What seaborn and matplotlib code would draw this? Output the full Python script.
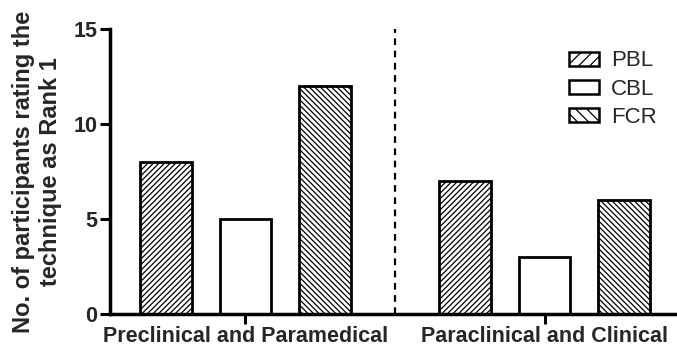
import matplotlib
matplotlib.use("Agg")
import matplotlib.pyplot as plt
import seaborn as sns
import pandas as pd

# Data
groups = ['Preclinical and Paramedical', 'Paraclinical and Clinical']
techniques = ['PBL', 'CBL', 'FCR']
pbl = [8, 7]
cbl = [5, 3]
fcr = [12, 6]

df = pd.DataFrame({
    'Group': groups * 3,
    'Technique': [t for t in techniques for _ in groups],
    'Count': pbl + cbl + fcr,
})

sns.set_style('ticks')
plt.rcParams['font.family'] = ['Liberation Sans', 'DejaVu Sans']
plt.rcParams['hatch.linewidth'] = 0.9

fig = plt.figure(figsize=(6.77, 3.54), dpi=100)
ax = fig.add_axes([0.1625, 0.113, 0.8375, 0.805])

sns.barplot(data=df, x='Group', y='Count', hue='Technique', order=groups,
            hue_order=techniques, palette=['white'] * 3, edgecolor='black',
            linewidth=2, gap=0.35, ax=ax, legend=True)

hatches = {'PBL': '//////', 'CBL': '', 'FCR': '\\\\\\\\\\\\'}
for cont, tech in zip(ax.containers, techniques):
    for bar in cont:
        bar.set_hatch(hatches[tech])

ax.axvline(0.5, ymin=0, ymax=1, color='black', linestyle=(0, (3, 2.5)), linewidth=1.6)

ax.set_xlim(-0.453, 1.443)
ax.set_ylim(0, 15)
ax.set_yticks([0, 5, 10, 15])
ax.set_xlabel('')
ax.set_ylabel('No. of participants rating the\ntechnique as Rank 1', fontsize=17,
              fontweight='bold', labelpad=8, linespacing=1.25)
for lbl in ax.get_xticklabels() + ax.get_yticklabels():
    lbl.set_fontweight('bold')
    lbl.set_fontsize(15.5)
ax.tick_params(axis='both', width=2.2, length=7, color='black', pad=2)

sns.despine(ax=ax)
for side in ['left', 'bottom']:
    ax.spines[side].set_linewidth(2.5)
    ax.spines[side].set_color('black')

handles, labels = ax.get_legend_handles_labels()
legend_hatches = {'PBL': '///', 'CBL': '', 'FCR': '\\\\\\'}
for h, tech in zip(handles, techniques):
    h.set_hatch(legend_hatches[tech])
    h.set_linewidth(1.8)
ax.legend(handles, labels, loc='upper right', bbox_to_anchor=(1.0, 0.995),
          frameon=False, fontsize=16, handlelength=1.35, handleheight=0.6,
          handletextpad=0.55, labelspacing=0.32)

fig.savefig('out.png', dpi=100)
